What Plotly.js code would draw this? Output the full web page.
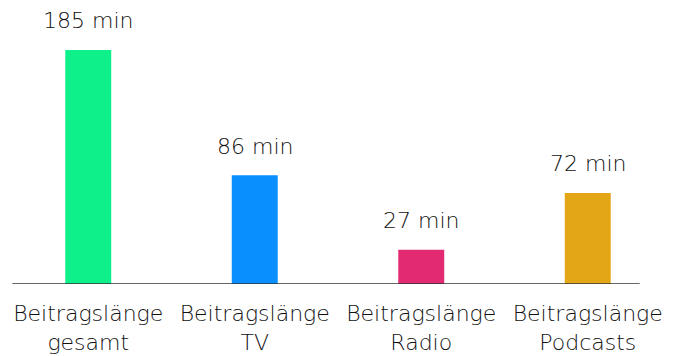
<!DOCTYPE html>
<html><head><meta charset="utf-8">
<script src="https://cdn.plot.ly/plotly-3.0.1.min.js"></script>
<style>body{margin:0;background:#fff}#c{width:683px;height:356px}</style>
</head><body><div id="c"></div>
<script>
const categories = ["Beitragslänge<br>gesamt", "Beitragslänge<br>TV", "Beitragslänge<br>Radio", "Beitragslänge<br>Podcasts"];
const values = [185, 86, 27, 72];
const labels = ["185 min", "86 min", "27 min", "72 min"];
const colors = ["#0ef08a", "#0a8fff", "#e12a72", "#e2a617"];
const font = {family: "DejaVu Sans, sans-serif", size: 22, color: "#111", weight: 300};
const trace = {
  type: "bar", x: categories, y: values, marker: {color: colors}, width: 0.276,
  hoverinfo: "none"
};
const layout = {
  width: 683, height: 356,
  margin: {l: 4.5, r: 11.5, t: 0, b: 72},
  paper_bgcolor: "#fff", plot_bgcolor: "#fff",
  showlegend: false, font: font,
  xaxis: {showline: false, ticks: "", tickfont: font, showgrid: false, zeroline: false, ticklabelstandoff: 14},
  yaxis: {visible: false, range: [0, 224.5], showgrid: false, zeroline: false},
  shapes: [{type: "line", xref: "paper", yref: "y", x0: 0.0112, x1: 0.953, y0: 0, y1: 0,
    line: {color: "#333", width: 1.5}}],
  annotations: categories.map((c, i) => ({x: c, y: values[i], text: labels[i], showarrow: false,
    yshift: 29, font: font}))
};
Plotly.newPlot("c", [trace], layout, {staticPlot: true});
</script></body></html>
